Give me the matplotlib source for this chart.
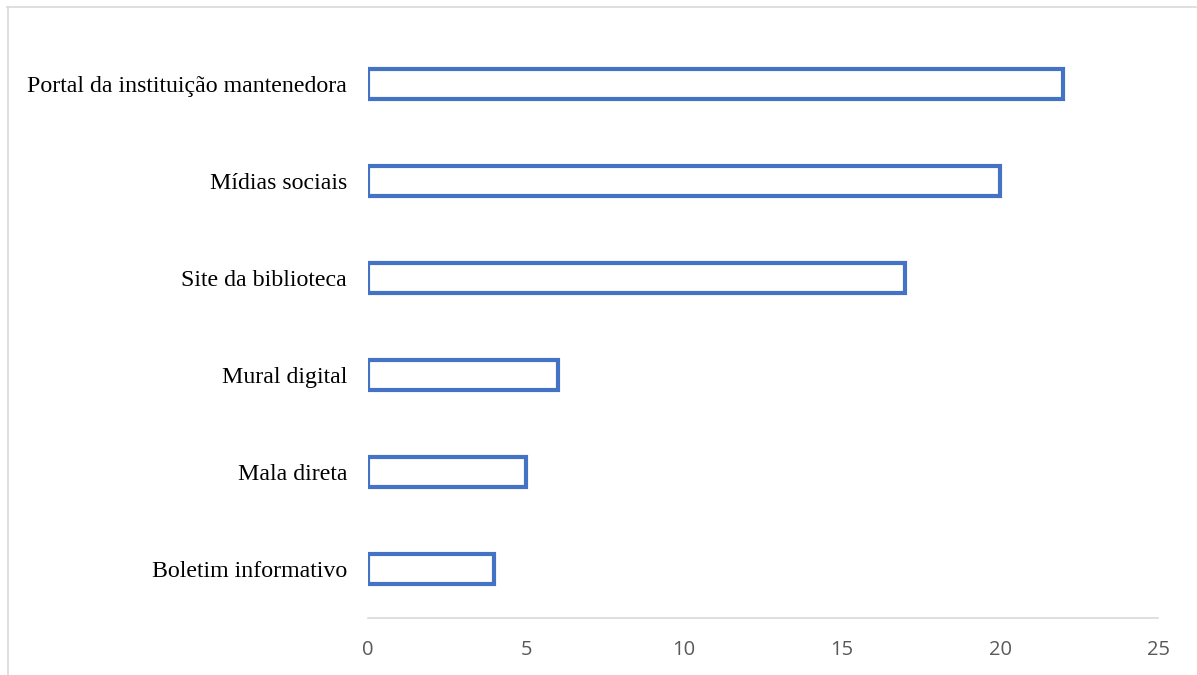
import matplotlib
matplotlib.use("Agg")
import matplotlib.pyplot as plt
from matplotlib.lines import Line2D

# Data (bottom to top)
categories = ["Boletim informativo", "Mala direta", "Mural digital",
              "Site da biblioteca", "Mídias sociais",
              "Portal da instituição mantenedora"]
values = [4, 5, 6, 17, 20, 22]
xticks = [0, 5, 10, 15, 20, 25]

W, H = 1197, 675
fig = plt.figure(figsize=(W / 100, H / 100), dpi=100)
ax = fig.add_axes([368 / W, 1 - 617.5 / H, (1158 - 368) / W, (617.5 - 35.5) / H])

ax.barh(categories, values, height=0.31, color="white",
        edgecolor="#4472C4", linewidth=3)

ax.set_xlim(0, 25)
ax.set_ylim(-0.5, len(categories) - 0.5)
ax.set_xticks(xticks)
ax.set_xticklabels([str(t) for t in xticks], color="#595959",
                   fontsize=14.5, family="Open Sans")
ax.set_yticks(range(len(categories)))
ax.set_yticklabels(categories, fontsize=17.2, family="Liberation Serif",
                   color="black")
ax.tick_params(axis="both", length=0)
ax.tick_params(axis="x", pad=16.5)
ax.tick_params(axis="y", pad=15)

for s in ["top", "right", "left"]:
    ax.spines[s].set_visible(False)
ax.spines["bottom"].set_color("#D9D9D9")
ax.spines["bottom"].set_linewidth(1.2)

# light gray frame around the chart (top and left only visible)
fig.add_artist(Line2D([7 / W, 1196 / W], [1 - 7 / H, 1 - 7 / H],
                      color="#D9D9D9", lw=1.2))
fig.add_artist(Line2D([7.5 / W, 7.5 / W], [1 - 7 / H, 0],
                      color="#D9D9D9", lw=1.2))

fig.savefig("out.png", dpi=100)
